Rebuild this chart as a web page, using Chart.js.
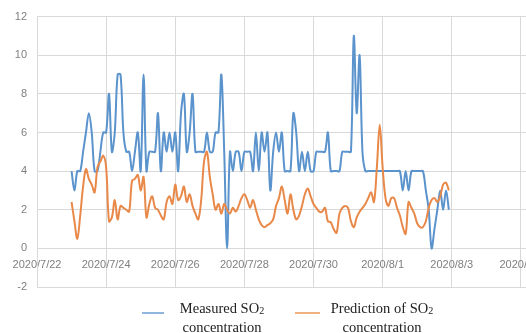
<!DOCTYPE html>
<html>
<head>
<meta charset="utf-8">
<script src="https://cdn.jsdelivr.net/npm/chart.js@4.4.1/dist/chart.umd.min.js"></script>
<style>
  html, body { margin: 0; padding: 0; overflow: hidden; background: #fff; }
  .chart-wrapper { position: relative; width: 600px; height: 333px; }
  .legend { position: absolute; top: 300px; left: 0; width: 526px; height: 34px;
    font-family: "Liberation Serif", "Times New Roman", serif; font-size: 14.5px; color: #222; }
  .legend .item { position: absolute; top: 0; text-align: center; line-height: 17px; white-space: nowrap; }
  .legend .swatch { position: absolute; top: 12px; height: 2px; }
  .legend sub { font-size: 70%; vertical-align: -1px; }
</style>
</head>
<body>
<div class="chart-wrapper">
  <canvas id="chart" width="600" height="333"></canvas>
  <div class="legend">
    <div class="swatch" style="left:142px; width:22px; background:#8fb6dc;"></div>
    <div class="item" style="left:172px; width:100px;">Measured SO<sub>2</sub><br>concentration</div>
    <div class="swatch" style="left:295px; width:25px; background:#f0b07f;"></div>
    <div class="item" style="left:326px; width:112px;">Prediction of SO<sub>2</sub><br>concentration</div>
  </div>
</div>
<script>
// date labels every two days, starting 2020/7/22 00:00 (hour 0)
const xTickLabels = ["2020/7/22", "2020/7/24", "2020/7/26", "2020/7/28",
  "2020/7/30", "2020/8/1", "2020/8/3", "2020/8/5"];

// readings start 2020/7/23 00:00, one every 2 hours
const startHour = 24;
const stepHours = 2;

const measured = [
  4, 3, 4, 4, 5, 6, 7, 6, 4, 4, 5, 6,
  6, 8, 5, 6, 9, 9, 6, 5, 5, 4, 5, 6,
  4, 9, 4, 5, 5, 5, 7, 4, 6, 5, 6, 5,
  6, 4, 7, 8, 5, 6, 8, 5, 5, 5, 5, 6,
  5, 5, 6, 6, 9, 5, 0, 5, 4, 5, 5, 4,
  5, 5, 5, 4, 6, 4, 6, 5, 6, 3, 5, 6,
  5, 6, 4, 4, 4, 7, 6, 4, 5, 4, 5, 4,
  4, 5, 5, 5, 5, 6, 4, 4, 4, 4, 5, 5,
  5, 5, 11, 7, 10, 5, 4, 4, 4, 4, 4, 4,
  4, 4, 4, 4, 4, 4, 4, 3, 4, 3, 4, 4,
  4, 4, 4, 3, 2, 0, 1, 2, 3, 2, 3, 2
];

const predicted = [
  2.4, 1.4, 0.5, 1.7, 3.2, 4.1, 3.6, 3.3, 2.9, 4.2, 4.5, 4.8,
  4.2, 1.4, 1.6, 2.5, 1.5, 2.2, 2.1, 2.0, 1.9, 3.5, 3.6, 3.8,
  3.0, 3.7, 1.6, 2.3, 2.7, 2.1, 2.0, 1.7, 1.5, 2.4, 2.7, 2.3,
  3.3, 2.5, 2.7, 3.2, 2.4, 2.8, 2.2, 1.8, 1.5, 2.5, 4.5, 5.0,
  3.7, 2.8, 2.0, 2.3, 1.8, 2.3, 2.0, 1.8, 2.1, 1.9, 2.2, 2.6,
  2.8, 2.5, 2.1, 2.5, 2.0, 1.5, 1.2, 1.1, 1.2, 1.3, 1.5, 2.2,
  2.6, 3.2, 2.5, 1.8, 2.8, 2.0, 1.5, 1.7, 2.2, 2.8, 3.1, 2.7,
  2.3, 2.1, 1.9, 1.9, 2.1, 1.4, 1.35, 1.0, 0.8, 1.8, 2.1, 2.2,
  2.1, 1.4, 1.1, 1.6, 1.9, 2.1, 2.3, 2.6, 2.9, 2.4, 4.2, 6.4,
  4.2, 2.6, 2.2, 2.6, 2.6, 2.1, 1.7, 1.1, 0.75, 2.4, 2.1, 1.8,
  1.3, 1.1, 1.1, 1.4, 2.1, 2.5, 2.6, 2.4, 2.7, 3.3, 3.4, 3.0
];

const toPoints = (values) =>
  values.map((v, i) => ({ x: startHour + i * stepHours, y: v }));

const gridColor = "#d9d9d9";
const tickFont = { family: "'Liberation Sans', Arial, sans-serif", size: 11 };

const ctx = document.getElementById("chart");

new Chart(ctx, {
  type: "line",
  data: {
    datasets: [
      {
        label: "Measured SO2 concentration",
        data: toPoints(measured),
        borderColor: "#5b93cc",
        borderWidth: 2,
        pointRadius: 0,
        tension: 0.35,
        order: 1,
      },
      {
        label: "Prediction of SO2 concentration",
        data: toPoints(predicted),
        borderColor: "#e8894a",
        borderWidth: 2,
        pointRadius: 0,
        tension: 0.35,
        order: 0,
      },
    ],
  },
  options: {
    responsive: false,
    animation: false,
    layout: { padding: { top: 13, bottom: 46, left: 0, right: 0 } },
    plugins: {
      legend: { display: false },
      tooltip: { enabled: false },
    },
    scales: {
      x: {
        type: "linear",
        position: { y: 0 },
        min: 0,
        max: 384,
        grid: { color: gridColor, drawTicks: false },
        border: { display: false },
        ticks: {
          stepSize: 48,
          autoSkip: false,
          maxRotation: 0,
          padding: 10,
          color: "#7f7f7f",
          font: tickFont,
          callback: (v) => (v % 48 === 0 && xTickLabels[v / 48]) || "",
        },
      },
      y: {
        min: -2,
        max: 12,
        grid: { color: gridColor, drawTicks: false },
        border: { color: gridColor },
        ticks: {
          stepSize: 2,
          padding: 10,
          color: "#7f7f7f",
          font: tickFont,
        },
        afterFit: (scale) => { scale.width = 37; },
      },
    },
  },
});
</script>
</body>
</html>
